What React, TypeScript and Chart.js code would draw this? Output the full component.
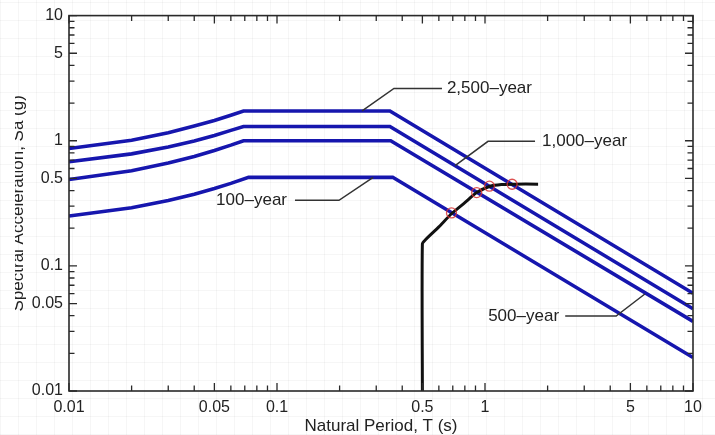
import React, { useEffect, useRef } from 'react';
import { Chart, registerables } from 'chart.js';

Chart.register(...registerables);

// ---- Data (T in s, Sa in g) ----
const t2500 = [0.01, 0.02, 0.03, 0.04, 0.05, 0.06, 0.069, 0.349, 10];
const sa2500 = [0.866, 1.01, 1.16, 1.31, 1.45, 1.6, 1.73, 1.73, 0.0604];

const t1000 = [0.01, 0.02, 0.03, 0.04, 0.05, 0.06, 0.069, 0.349, 10];
const sa1000 = [0.68, 0.785, 0.89, 0.995, 1.1, 1.21, 1.3, 1.3, 0.0454];

const t500 = [0.01, 0.02, 0.03, 0.04, 0.05, 0.06, 0.069, 0.352, 10];
const sa500 = [0.49, 0.576, 0.663, 0.749, 0.836, 0.922, 1.0, 1.0, 0.036];

const t100 = [0.01, 0.02, 0.03, 0.04, 0.05, 0.06, 0.073, 0.36, 10];
const sa100 = [0.25, 0.291, 0.333, 0.374, 0.415, 0.456, 0.51, 0.51, 0.0185];

const tStruct = [0.5, 0.5, 0.52, 0.545, 0.6, 0.692, 0.8, 0.912, 1.057, 1.2, 1.37, 1.8];
const saStruct = [0.01, 0.15, 0.163, 0.176, 0.205, 0.262, 0.32, 0.385, 0.433, 0.447, 0.45, 0.45];

const tCross = [0.69, 0.912, 1.05, 1.35];
const saCross = [0.265, 0.385, 0.433, 0.449];

const tickLabelValues = [0.01, 0.05, 0.1, 0.5, 1, 5, 10];
const tickLabels = ['0.01', '0.05', '0.1', '0.5', '1', '5', '10'];

const leaderLabels = ['2,500–year', '1,000–year', '100–year', '500–year'];
const leaderPaths: number[][][] = [
  [[0.2565, 1.73], [0.365, 2.62], [0.621, 2.62]],
  [[0.718, 0.632], [1.034, 0.99], [1.74, 0.99]],
  [[0.29, 0.51], [0.1986, 0.334], [0.122, 0.334]],
  [[5.87, 0.0596], [4.27, 0.0397], [2.43, 0.0397]],
];
const leaderTextAnchors: number[][] = [
  [0.656, 2.62],
  [1.88, 0.99],
  [0.1117, 0.334],
  [2.27, 0.0397],
];
const leaderTextAlign: CanvasTextAlign[] = ['left', 'left', 'right', 'right'];

const xTitle = 'Natural Period, T (s)';
const yTitle = 'Spectral Acceleration, Sa (g)';

// all log ticks 1..9 per decade
const allTicks: number[] = [];
for (let e = -2; e <= 0; e++) {
  for (let k = 1; k <= 9; k++) allTicks.push(+(k * Math.pow(10, e)).toPrecision(6));
}
allTicks.push(10);

const labelFor = (v: number) => {
  const i = tickLabelValues.findIndex((t) => Math.abs(t - v) / t < 1e-6);
  return i >= 0 ? tickLabels[i] : '';
};

const pts = (xs: number[], ys: number[]) => xs.map((x, i) => ({ x, y: ys[i] }));

const FONT = "'Liberation Sans', Arial, Helvetica, sans-serif";
const BLUE = '#1616ae';

const decorPlugin = {
  id: 'decor',
  afterDraw(chart: any) {
    const { ctx, chartArea: a, scales } = chart;
    const xs = scales.x;
    const ys = scales.y;
    ctx.save();
    // leaders
    ctx.strokeStyle = '#333';
    ctx.lineWidth = 1.5;
    leaderPaths.forEach((path) => {
      ctx.beginPath();
      path.forEach(([tx, sy], i) => {
        const px = xs.getPixelForValue(tx);
        const py = ys.getPixelForValue(sy);
        if (i === 0) ctx.moveTo(px, py);
        else ctx.lineTo(px, py);
      });
      ctx.stroke();
    });
    ctx.fillStyle = '#222';
    ctx.font = `17px ${FONT}`;
    ctx.textBaseline = 'middle';
    leaderLabels.forEach((lab, i) => {
      ctx.textAlign = leaderTextAlign[i];
      ctx.fillText(lab, xs.getPixelForValue(leaderTextAnchors[i][0]), ys.getPixelForValue(leaderTextAnchors[i][1]));
    });

    // frame
    ctx.strokeStyle = '#2a2a2a';
    ctx.lineWidth = 1.6;
    ctx.strokeRect(a.left, a.top, a.right - a.left, a.bottom - a.top);
    // inward ticks on all sides
    ctx.lineWidth = 1.3;
    allTicks.forEach((v) => {
      const major = labelFor(v) !== '';
      const len = major ? 8 : 5.5;
      const px = xs.getPixelForValue(v);
      const py = ys.getPixelForValue(v);
      ctx.beginPath();
      ctx.moveTo(px, a.bottom); ctx.lineTo(px, a.bottom - len);
      ctx.moveTo(px, a.top); ctx.lineTo(px, a.top + len);
      ctx.moveTo(a.left, py); ctx.lineTo(a.left + len, py);
      ctx.moveTo(a.right, py); ctx.lineTo(a.right - len, py);
      ctx.stroke();
    });

    // axis titles
    ctx.fillStyle = '#222';
    ctx.font = `17px ${FONT}`;
    ctx.textAlign = 'center';
    ctx.textBaseline = 'alphabetic';
    ctx.fillText(xTitle, (a.left + a.right) / 2, 431);

    ctx.save();
    ctx.beginPath();
    ctx.rect(15, 0, 30, 435);
    ctx.clip();
    ctx.translate(23, (a.top + a.bottom) / 2);
    ctx.rotate(-Math.PI / 2);
    ctx.fillText(yTitle, 0, 0);
    ctx.restore();

    ctx.restore();
  },
};

export default function App() {
  const ref = useRef<HTMLCanvasElement>(null);
  useEffect(() => {
    document.body.style.margin = '0';
    if (!ref.current) return;
    const lineDs = (label: string, xs: number[], ys: number[], order: number) => ({
      label,
      data: pts(xs, ys),
      showLine: true,
      borderColor: BLUE,
      backgroundColor: BLUE,
      borderWidth: 3.6,
      pointRadius: 0,
      tension: 0,
      order,
    });
    const chart = new Chart(ref.current, {
      type: 'scatter',
      data: {
        datasets: [
          {
            label: 'Intersections',
            data: pts(tCross, saCross),
            showLine: false,
            pointStyle: 'circle',
            pointRadius: 5,
            borderColor: 'rgba(215,50,50,0.85)',
            backgroundColor: 'rgba(0,0,0,0)',
            borderWidth: 1.3,
            order: 0,
          } as any,
          {
            label: 'Structure',
            data: pts(tStruct, saStruct),
            showLine: true,
            borderColor: '#111',
            borderWidth: 3,
            pointRadius: 0,
            tension: 0.2,
            order: 1,
          },
          lineDs('2,500-year', t2500, sa2500, 2),
          lineDs('1,000-year', t1000, sa1000, 3),
          lineDs('500-year', t500, sa500, 4),
          lineDs('100-year', t100, sa100, 5),
        ],
      },
      options: {
        responsive: false,
        animation: false,
        layout: { padding: { left: 0, right: 22, top: 15, bottom: 0 } },
        plugins: { legend: { display: false }, tooltip: { enabled: false } },
        scales: {
          x: {
            type: 'logarithmic',
            min: 0.01,
            max: 10,
            grid: { display: false, drawTicks: false },
            border: { display: false },
            afterBuildTicks: (s: any) => {
              s.ticks = allTicks.map((v) => ({ value: v }));
            },
            afterFit: (s: any) => {
              s.height = 44;
            },
            ticks: {
              autoSkip: false,
              maxRotation: 0,
              minRotation: 0,
              padding: 7,
              color: '#222',
              font: { family: FONT, size: 16 },
              callback: (v: any) => labelFor(Number(v)),
            },
          },
          y: {
            type: 'logarithmic',
            min: 0.01,
            max: 10,
            grid: { display: false, drawTicks: false },
            border: { display: false },
            afterBuildTicks: (s: any) => {
              s.ticks = allTicks.map((v) => ({ value: v }));
            },
            afterFit: (s: any) => {
              s.width = 69;
            },
            ticks: {
              autoSkip: false,
              padding: 6,
              color: '#222',
              font: { family: FONT, size: 16 },
              callback: (v: any) => labelFor(Number(v)),
            },
          },
        },
      },
      plugins: [decorPlugin],
    });
    return () => chart.destroy();
  }, []);

  const bg =
    'repeating-linear-gradient(0deg, rgba(0,0,0,0.035) 0 1px, transparent 1px 18px),' +
    'repeating-linear-gradient(90deg, rgba(0,0,0,0.035) 0 1px, transparent 1px 18px), #fff';

  return (
    <div style={{ width: 715, height: 435, background: bg, overflow: 'hidden' }}>
      <canvas ref={ref} width={715} height={435} style={{ display: 'block' }} />
    </div>
  );
}
